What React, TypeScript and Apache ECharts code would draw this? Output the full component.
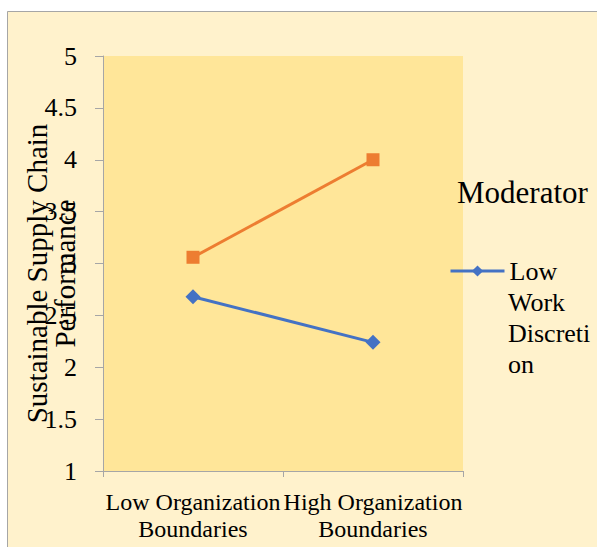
import React, { useEffect, useRef } from "react";
import * as echarts from "echarts";

const categories = ["Low Organization\nBoundaries", "High Organization\nBoundaries"];
const lowWorkDiscretion = [2.68, 2.24];
const highWorkDiscretion = [3.06, 4.0];
const yTicks = { min: 1, max: 5, interval: 0.5 };

const FONT = '"Liberation Serif", "Times New Roman", Tinos, "DejaVu Serif", serif';

export default function App() {
  const ref = useRef<HTMLDivElement>(null);
  useEffect(() => {
    document.body.style.margin = "0";
    const chart = echarts.init(ref.current!, null, { renderer: "svg" });
    chart.setOption({
      animation: false,
      backgroundColor: "#FFF2CC",
      textStyle: { fontFamily: FONT },
      title: {
        text: "Moderator",
        left: 457,
        top: 177,
        padding: 0,
        textStyle: { fontFamily: FONT, fontSize: 31, fontWeight: "normal", color: "#000" },
      },
      legend: {
        data: ["Low Work Discretion"],
        left: 449,
        top: 258,
        padding: 0,
        itemWidth: 54,
        itemHeight: 14,
        lineStyle: { width: 3 },
        formatter: () => "Low",
        textStyle: { fontFamily: FONT, fontSize: 26, lineHeight: 26, color: "#000" },
      },
      graphic: [
        {
          type: "rect",
          silent: true,
          shape: { x: 0, y: 0, width: 597, height: 11 },
          style: { fill: "#ffffff" },
        },
        {
          type: "rect",
          silent: true,
          shape: { x: 0, y: 0, width: 7, height: 547 },
          style: { fill: "#ffffff" },
        },
        {
          type: "line",
          silent: true,
          shape: { x1: 7.5, y1: 11.5, x2: 597, y2: 11.5 },
          style: { stroke: "#A6A6A6", lineWidth: 1 },
        },
        {
          type: "line",
          silent: true,
          shape: { x1: 7.5, y1: 11.5, x2: 7.5, y2: 547 },
          style: { stroke: "#A6A6A6", lineWidth: 1 },
        },
        {
          type: "text",
          z: 10,
          x: 508,
          y: 287,
          style: {
            text: "Work\nDiscreti\non",
            fontFamily: FONT,
            fontSize: 26,
            lineHeight: 31,
            fill: "#000",
            verticalAlign: "top",
          },
        },
      ],
      grid: {
        left: 103,
        top: 56,
        right: 134,
        bottom: 76,
        show: true,
        backgroundColor: "#FFE699",
        borderWidth: 0,
        containLabel: false,
        outerBoundsMode: "none",
      },
      xAxis: {
        type: "category",
        data: categories,
        boundaryGap: true,
        axisLine: { lineStyle: { color: "#A6A6A6", width: 1 } },
        axisTick: { show: true, length: 6, lineStyle: { color: "#A6A6A6" } },
        axisLabel: {
          fontFamily: FONT,
          fontSize: 24,
          lineHeight: 27,
          color: "#000",
          margin: 17,
          interval: 0,
        },
        splitLine: { show: false },
      },
      yAxis: {
        type: "value",
        min: yTicks.min,
        max: yTicks.max,
        interval: yTicks.interval,
        name: "Sustainable Supply Chain\nPerformance",
        nameLocation: "middle",
        nameRotate: 90,
        nameGap: 24,
        nameMoveOverlap: false,
        nameTextStyle: {
          fontFamily: FONT,
          fontSize: 29,
          lineHeight: 28,
          color: "#000",
          padding: [0, 20, 0, 0],
        },
        axisLine: { show: true, lineStyle: { color: "#A6A6A6", width: 1 } },
        axisTick: { show: true, length: 8, lineStyle: { color: "#A6A6A6" } },
        axisLabel: { fontFamily: FONT, fontSize: 26, color: "#000", margin: 26 },
        splitLine: { show: false },
      },
      series: [
        {
          name: "Low Work Discretion",
          type: "line",
          data: lowWorkDiscretion,
          color: "#4472C4",
          symbol: "diamond",
          symbolSize: 15,
          lineStyle: { width: 3, color: "#4472C4" },
          itemStyle: { color: "#4472C4" },
        },
        {
          name: "High Work Discretion",
          type: "line",
          data: highWorkDiscretion,
          color: "#ED7D31",
          symbol: "rect",
          symbolSize: 13,
          lineStyle: { width: 3, color: "#ED7D31" },
          itemStyle: { color: "#ED7D31" },
        },
      ],
    });
    return () => chart.dispose();
  }, []);
  return <div ref={ref} style={{ width: 597, height: 547 }} />;
}
